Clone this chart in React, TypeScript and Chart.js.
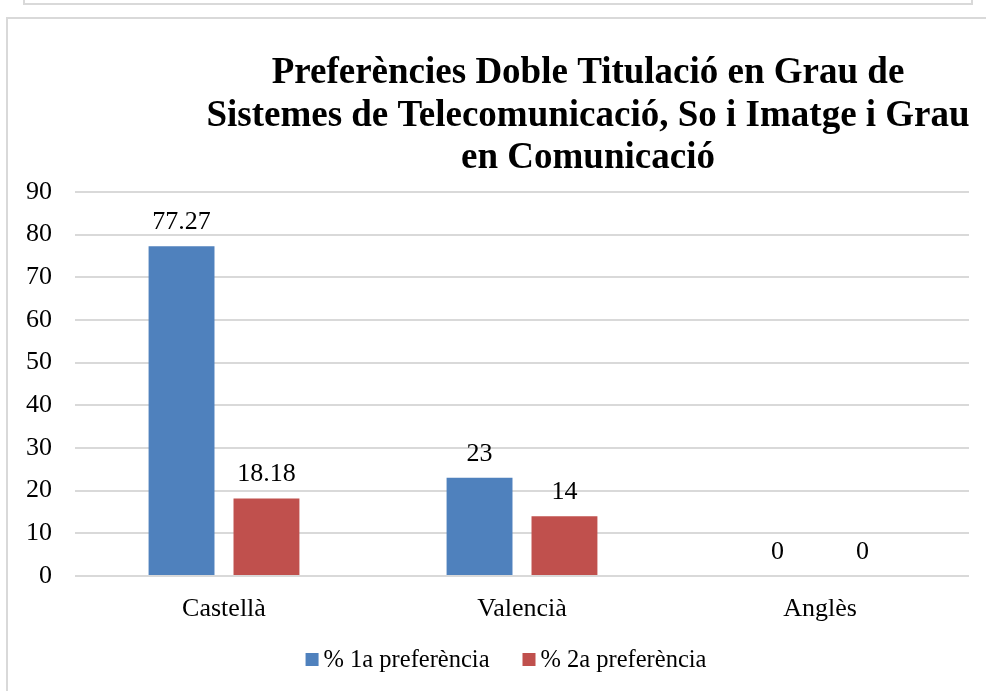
import React, { useEffect, useRef } from "react";
import { Chart, registerables } from "chart.js";

Chart.register(...registerables);

const categories = ["Castellà", "Valencià", "Anglès"];
const firstPreference = [77.27, 23, 0];
const secondPreference = [18.18, 14, 0];
const seriesNames = ["% 1a preferència", "% 2a preferència"];
const seriesColors = ["#4F81BD", "#C0504D"];
const titleLines = [
  "Preferències Doble Titulació en Grau de",
  "Sistemes de Telecomunicació, So i Imatge i Grau",
  "en Comunicació",
];
const yMin = 0;
const yMax = 90;
const yStep = 10;

const FONT = '"Liberation Serif", "Times New Roman", serif';
const CANVAS_W = 978;
const CANVAS_H = 672;

const overlayPlugin = {
  id: "overlay",
  afterDatasetsDraw(chart: any) {
    const ctx = chart.ctx;
    ctx.save();
    ctx.font = `26px ${FONT}`;
    ctx.fillStyle = "#000";
    ctx.textAlign = "center";
    ctx.textBaseline = "alphabetic";
    chart.data.datasets.forEach((ds: any, i: number) => {
      const meta = chart.getDatasetMeta(i);
      meta.data.forEach((bar: any, j: number) => {
        ctx.fillText(String(ds.data[j]), bar.x, bar.y - 17);
      });
    });
    ctx.restore();
  },
  afterDraw(chart: any) {
    const ctx = chart.ctx;
    ctx.save();
    // Title
    ctx.font = `bold 37px ${FONT}`;
    ctx.fillStyle = "#000";
    ctx.textAlign = "center";
    ctx.textBaseline = "alphabetic";
    titleLines.forEach((line, k) => {
      ctx.fillText(line, 580, 64 + k * 42.5);
    });
    // Legend
    ctx.font = `24.5px ${FONT}`;
    const box = 13;
    const gapText = 5;
    const gapItem = 33;
    const widths = seriesNames.map((n) => ctx.measureText(n).width);
    const total =
      widths.reduce((a, b) => a + b, 0) + seriesNames.length * (box + gapText) + gapItem * (seriesNames.length - 1);
    let x = 498 - total / 2;
    const baseline = 648;
    ctx.textAlign = "left";
    seriesNames.forEach((n, i) => {
      ctx.fillStyle = seriesColors[i];
      ctx.fillRect(x, baseline - 14, box, box);
      x += box + gapText;
      ctx.fillStyle = "#000";
      ctx.fillText(n, x, baseline);
      x += widths[i] + gapItem;
    });
    ctx.restore();
  },
};

export default function App() {
  const ref = useRef<HTMLCanvasElement | null>(null);

  useEffect(() => {
    if (!ref.current) return;
    const chart = new Chart(ref.current, {
      type: "bar",
      data: {
        labels: categories,
        datasets: [
          {
            label: seriesNames[0],
            data: firstPreference,
            backgroundColor: seriesColors[0],
            barPercentage: 0.776,
            categoryPercentage: 0.57,
          },
          {
            label: seriesNames[1],
            data: secondPreference,
            backgroundColor: seriesColors[1],
            barPercentage: 0.776,
            categoryPercentage: 0.57,
          },
        ],
      },
      options: {
        responsive: false,
        animation: false,
        devicePixelRatio: 1,
        layout: { padding: { left: 7, right: 17, top: 173, bottom: 55 } },
        plugins: {
          legend: { display: false },
          title: { display: false },
          tooltip: { enabled: false },
        },
        scales: {
          x: {
            grid: { display: false },
            border: { display: false },
            ticks: {
              color: "#000",
              font: { family: FONT, size: 26 },
              padding: 10,
            },
            afterFit: (s: any) => {
              s.height = 60;
            },
          },
          y: {
            min: yMin,
            max: yMax,
            ticks: {
              stepSize: yStep,
              color: "#000",
              font: { family: FONT, size: 26 },
              padding: 23,
            },
            grid: { color: "#d9d9d9", lineWidth: 2, drawTicks: false },
            border: { display: false },
            afterFit: (s: any) => {
              s.width = 60;
            },
          },
        },
      },
      plugins: [overlayPlugin],
    });
    return () => chart.destroy();
  }, []);

  return (
    <div
      style={{
        position: "fixed",
        left: 0,
        top: 0,
        width: 986,
        height: 691,
        overflow: "hidden",
        background: "#fff",
      }}
    >
      <div
        style={{
          position: "absolute",
          left: 23,
          top: -20,
          width: 946,
          height: 21,
          border: "2px solid #d9d9d9",
        }}
      />
      <div
        style={{
          position: "absolute",
          left: 6,
          top: 17,
          width: 1100,
          height: 800,
          border: "2px solid #d9d9d9",
        }}
      >
        <canvas
          ref={ref}
          width={CANVAS_W}
          height={CANVAS_H}
          style={{ display: "block", width: CANVAS_W, height: CANVAS_H }}
        />
      </div>
    </div>
  );
}
